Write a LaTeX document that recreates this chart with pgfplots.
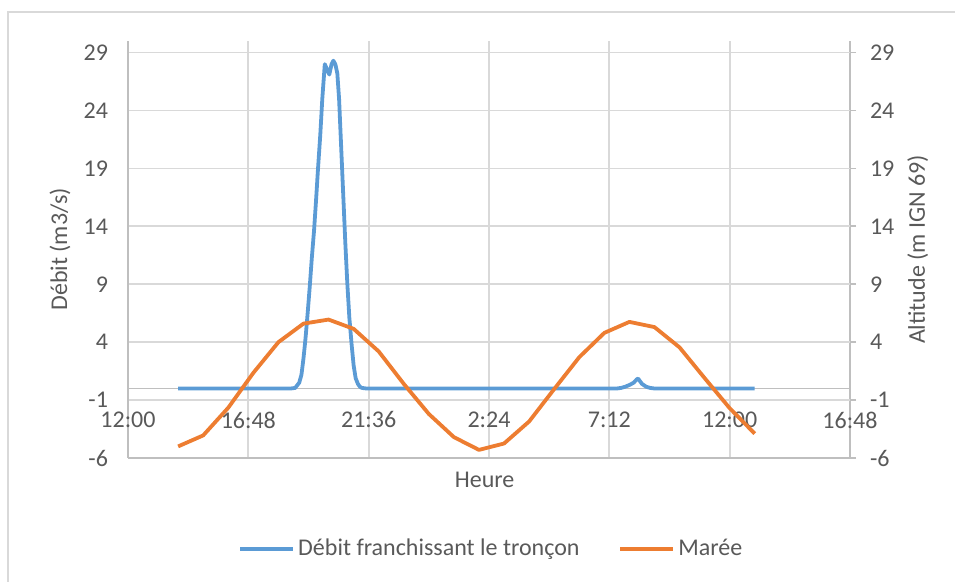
\documentclass[border=0pt]{standalone}
\usepackage{fontspec}
\setmainfont{Carlito}
\usepackage{pgfplots}
\pgfplotsset{compat=1.18}
\definecolor{sblue}{HTML}{5B9BD5}
\definecolor{sorange}{HTML}{ED7D31}
\definecolor{gridgray}{HTML}{D9D9D9}
\definecolor{axgray}{HTML}{BFBFBF}
\definecolor{txtgray}{HTML}{595959}
\begin{document}
\begin{tikzpicture}
\useasboundingbox (0pt,0pt) rectangle (477.5pt,291pt);
\draw[gridgray, line width=0.8pt] (4pt,0pt) -- (4pt,285pt) -- (477.5pt,285pt);
\begin{axis}[
  at={(64pt,62pt)}, anchor=south west,
  scale only axis, width=361pt, height=208.5pt,
  xmin=0, xmax=28.8, ymin=-6, ymax=30,
  axis y line*=right, hide x axis,
  axis line style={axgray, line width=0.9pt, -},
  ytick={-6,-1,4,9,14,19,24,29},
  yticklabels={-6,-1,4,9,14,19,24,29},
  tick align=outside, major tick length=3pt,
  tick style={axgray, line width=0.9pt},
  font=\fontsize{12pt}{14pt}\selectfont,
  every tick label/.append style={text=txtgray},
  yticklabel style={xshift=3.5pt},
  ylabel={Altitude (m IGN 69)},
  label style={text=txtgray},
  ylabel style={at={(axis description cs:1.094,0.5)}, anchor=center, rotate=0},
]
\addplot[draw=none] coordinates {(0,0)};
\end{axis}
\begin{axis}[
  at={(64pt,62pt)}, anchor=south west,
  scale only axis, width=361pt, height=208.5pt,
  xmin=0, xmax=28.8, ymin=-6, ymax=30,
  axis x line*=bottom, axis y line*=left,
  axis line style={axgray, line width=0.9pt, -},
  xtick={0,4.8,9.6,14.4,19.2,24},
  xticklabels={12:00,16:48,21:36,2:24,7:12,12:00},
  extra x ticks={28.8}, extra x tick labels={16:48},
  extra x tick style={grid=none, tick style={draw=none}},
  ytick={-6,-1,4,9,14,19,24,29},
  yticklabels={-6,-1,4,9,14,19,24,29},
  extra y ticks={0}, extra y tick labels={},
  extra y tick style={grid=major, major grid style={axgray, line width=0.9pt}, tick style={draw=none}},
  xmajorgrids, ymajorgrids,
  major grid style={gridgray, line width=0.9pt},
  tick style={draw=none},
  font=\fontsize{12pt}{14pt}\selectfont,
  every tick label/.append style={text=txtgray},
  xticklabel style={anchor=center, yshift=19pt},
  yticklabel style={xshift=-6.5pt},
  xlabel={Heure}, ylabel={Débit (m3/s)},
  label style={text=txtgray},
  xlabel style={at={(axis description cs:0.494,-0.053)}, anchor=center},
  ylabel style={at={(axis description cs:-0.094,0.5)}, anchor=center},
  legend columns=2,
  legend style={at={(0.504,-0.218)}, anchor=center, draw=none, fill=none,
    text=txtgray, font=\fontsize{12pt}{14pt}\selectfont,
    /tikz/every even column/.append style={column sep=18pt},
    nodes={inner sep=1.5pt}},
  legend image code/.code={\draw[#1] (0pt,0pt) -- (26.5pt,0pt);},
]
\addplot[sblue, line width=1.9pt, line join=round] coordinates {
(2,0) (6.5,0) (6.67,0.05) (6.83,0.5) (6.92,1.2) (7.0,2.6) (7.08,4.3) (7.17,6.6)
(7.25,8.8) (7.33,11.2) (7.42,13.6) (7.5,16.2) (7.58,19) (7.67,21.9) (7.75,25)
(7.85,28.0) (7.95,27.5) (8.03,27.1) (8.12,28.0) (8.19,28.3) (8.27,28.0) (8.35,27.2)
(8.42,25) (8.5,21) (8.58,17) (8.67,12.5) (8.75,9.0) (8.83,6.1) (8.92,3.8) (9.0,2.0)
(9.08,0.9) (9.17,0.4) (9.25,0.15) (9.33,0.05) (9.5,0)
(19.5,0) (19.67,0.05) (19.83,0.15) (20.0,0.3) (20.17,0.5) (20.3,0.8) (20.35,0.85)
(20.5,0.4) (20.67,0.15) (20.83,0.05) (21.0,0) (25,0)
};
\addlegendentry{Débit franchissant le tronçon}
\addplot[sorange, line width=1.9pt, line join=round] coordinates {
(2,-5.0) (3,-4.05) (4,-1.66) (5,1.35) (6,4.0) (7,5.6) (8,5.95) (9,5.15) (10,3.2)
(11,0.4) (12,-2.2) (13,-4.2) (14,-5.3) (15,-4.75) (16,-2.85) (17,-0.05) (18,2.7)
(19,4.8) (20,5.75) (21,5.3) (22,3.55) (23,0.9) (24,-1.7) (25,-3.9)
};
\addlegendentry{Marée}
\end{axis}
\end{tikzpicture}
\end{document}
